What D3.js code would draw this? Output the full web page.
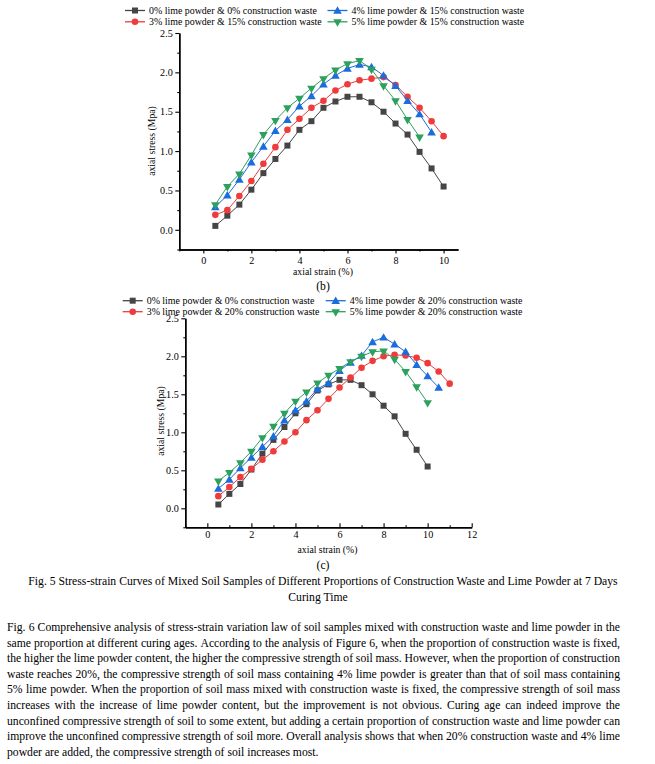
<!DOCTYPE html>
<html><head><meta charset="utf-8">
<script src="https://cdn.jsdelivr.net/npm/d3@7"></script>
<style>html,body{margin:0;padding:0;background:#fff;}svg{display:block;}</style>
</head><body>
<script>
// ---------- data ----------
const strainB = [0.5,1,1.5,2,2.5,3,3.5,4,4.5,5,5.5,6,6.5,7,7.5,8,8.5,9,9.5,10];
const strainC = [0.5,1,1.5,2,2.5,3,3.5,4,4.5,5,5.5,6,6.5,7,7.5,8,8.5,9,9.5,10,10.5,11];

const b0 = [0.05,0.18,0.32,0.51,0.72,0.90,1.07,1.27,1.38,1.55,1.63,1.69,1.69,1.62,1.50,1.35,1.21,0.99,0.78,0.55];
const b3 = [0.19,0.25,0.43,0.62,0.84,1.05,1.27,1.41,1.55,1.64,1.77,1.85,1.90,1.92,1.94,1.84,1.69,1.55,1.38,1.19];
const b4 = [0.29,0.44,0.64,0.86,1.06,1.26,1.40,1.57,1.70,1.85,1.96,2.05,2.10,2.07,1.96,1.83,1.64,1.47,1.24];
const b5 = [0.32,0.55,0.71,0.95,1.21,1.39,1.55,1.67,1.80,1.92,2.03,2.11,2.15,2.04,1.83,1.64,1.40,1.18];

const c0 = [0.05,0.19,0.32,0.51,0.72,0.90,1.07,1.25,1.37,1.55,1.63,1.69,1.69,1.62,1.50,1.35,1.21,0.98,0.77,0.55];
const c3 = [0.16,0.28,0.41,0.52,0.64,0.75,0.88,1.00,1.16,1.29,1.44,1.59,1.72,1.85,1.94,2.00,2.02,2.01,1.98,1.91,1.80,1.64];
const c4 = [0.26,0.38,0.53,0.67,0.81,0.95,1.16,1.29,1.41,1.57,1.65,1.81,1.92,2.01,2.19,2.25,2.16,2.06,1.89,1.74,1.59];
const c5 = [0.36,0.47,0.60,0.75,0.93,1.08,1.25,1.41,1.53,1.65,1.75,1.84,1.93,2.00,2.06,2.07,1.96,1.80,1.60,1.39];

const namesB = ["0% lime powder & 0% construction waste","3% lime powder & 15% construction waste","4% lime powder & 15% construction waste","5% lime powder & 15% construction waste"];
const namesC = ["0% lime powder & 0% construction waste","3% lime powder & 20% construction waste","4% lime powder & 20% construction waste","5% lime powder & 20% construction waste"];

const yTicks = [0,0.5,1.0,1.5,2.0,2.5];
const yMinor = [-0.25,0.25,0.75,1.25,1.75,2.25];
const xTicksB = [0,2,4,6,8,10];
const xMinorB = [-1,1,3,5,7,9];
const xTicksC = [0,2,4,6,8,10,12];
const xMinorC = [-1,1,3,5,7,9,11];

const colors = ["#454545","#ee3b3b","#1c6ddc","#2ca05c"];
const shapes = ["square","circle","up","down"];

const caption1 = "Fig. 5 Stress-strain Curves of Mixed Soil Samples of Different Proportions of Construction Waste and Lime Powder at 7 Days";
const caption2 = "Curing Time";
const paraLines = [
"Fig. 6 Comprehensive analysis of stress-strain variation law of soil samples mixed with construction waste and lime powder in the",
"same proportion at different curing ages. According to the analysis of Figure 6, when the proportion of construction waste is fixed,",
"the higher the lime powder content, the higher the compressive strength of soil mass. However, when the proportion of construction",
"waste reaches 20%, the compressive strength of soil mass containing 4% lime powder is greater than that of soil mass containing",
"5% lime powder. When the proportion of soil mass mixed with construction waste is fixed, the compressive strength of soil mass",
"increases with the increase of lime powder content, but the improvement is not obvious. Curing age can indeed improve the",
"unconfined compressive strength of soil to some extent, but adding a certain proportion of construction waste and lime powder can",
"improve the unconfined compressive strength of soil more. Overall analysis shows that when 20% construction waste and 4% lime",
"powder are added, the compressive strength of soil increases most."
];

// ---------- drawing ----------
const FONT = "'Liberation Serif', 'Times New Roman', serif";
const W = 655, H = 764;
const svg = d3.select("body").append("svg").attr("width", W).attr("height", H);
svg.append("rect").attr("width", W).attr("height", H).attr("fill", "#fff");

function txt(g, size){ return g.append("text").style("font-family", FONT).style("font-size", size + "px").attr("fill", "#000"); }
function measure(s, size){ const m = txt(svg, size).text(s); const w = m.node().getComputedTextLength(); m.remove(); return w; }
function fit(s, target){ return 10 * target / measure(s, 10); }

const legSize = fit(namesB[0], 168);
const tickSize = fit("0.0", 12.7);
const titleSize = fit("axial strain (%)", 60);
const capSize = fit(caption1, 590);

function symbolPath(shape){
  if (shape === "square") return d3.symbol(d3.symbolSquare, 36)();
  if (shape === "circle") return d3.symbol(d3.symbolCircle, 34)();
  return d3.symbol(d3.symbolTriangle, 32)();
}
function addMarker(g, shape, x, y, color){
  const p = g.append("path").attr("d", symbolPath(shape)).attr("fill", color);
  if (shape === "down") p.attr("transform", `translate(${x},${y}) rotate(180)`);
  else if (shape === "up") p.attr("transform", `translate(${x},${y+0.8})`);
  else p.attr("transform", `translate(${x},${y})`);
}

function drawPanel(cfg){
  const x = d3.scaleLinear().domain(cfg.xDomain).range(cfg.xRange);
  const y = d3.scaleLinear().domain([-0.25, 2.5]).range(cfg.yRange);
  const g = svg.append("g");

  const yAxis = d3.axisLeft(y).tickValues(yTicks).tickFormat(d3.format(".1f")).tickSize(4).tickSizeOuter(0).tickPadding(2.5);
  const yAxisMinor = d3.axisLeft(y).tickValues(yMinor).tickFormat("").tickSize(2).tickSizeOuter(0);
  const xAxis = d3.axisBottom(x).tickValues(cfg.xTicks).tickFormat(d3.format("d")).tickSize(4 * cfg.xDir).tickSizeOuter(0).tickPadding(cfg.xPad);
  const xAxisMinor = d3.axisBottom(x).tickValues(cfg.xMinor).tickFormat("").tickSize(2 * cfg.xDir).tickSizeOuter(0);

  g.append("g").attr("transform", `translate(${cfg.xRange[0]},0)`).call(yAxis);
  g.append("g").attr("transform", `translate(${cfg.xRange[0]},0)`).call(yAxisMinor);
  g.append("g").attr("transform", `translate(0,${cfg.yRange[0]})`).call(xAxis);
  g.append("g").attr("transform", `translate(0,${cfg.yRange[0]})`).call(xAxisMinor);
  g.selectAll(".domain").attr("stroke", "#000").attr("stroke-width", 1.4);
  g.selectAll(".tick line").attr("stroke", "#000").attr("stroke-width", 1.1);
  g.selectAll(".tick text").style("font-family", FONT).style("font-size", tickSize + "px").attr("fill", "#000");

  txt(g, titleSize).attr("x", cfg.xTitle[0]).attr("y", cfg.xTitle[1]).attr("text-anchor", "middle").text("axial strain (%)");
  txt(g, titleSize).attr("transform", `translate(${cfg.yTitle[0]},${cfg.yTitle[1]}) rotate(-90)`)
    .attr("text-anchor", "middle").text("axial stress (Mpa)");
  txt(g, capSize).attr("x", cfg.tag[0]).attr("y", cfg.tag[1]).attr("text-anchor", "middle").text(cfg.tagText);

  const line = d3.line().x(d => x(d[0])).y(d => y(d[1]));
  cfg.series.forEach((vals, i) => {
    const pts = vals.map((v, k) => [cfg.strain[k], v]);
    g.append("path").attr("d", line(pts)).attr("fill", "none").attr("stroke", colors[i]).attr("stroke-width", 1);
    pts.forEach(p => addMarker(g, shapes[i], x(p[0]), y(p[1]), colors[i]));
  });

  cfg.names.forEach((n, i) => {
    const col = i < 2 ? 0 : 1, row = i % 2;
    const lx = cfg.legX[col], ly = cfg.legY[row];
    g.append("line").attr("x1", lx).attr("x2", lx + 20).attr("y1", ly).attr("y2", ly)
      .attr("stroke", colors[i]).attr("stroke-width", 1.3);
    addMarker(g, shapes[i], lx + 10, ly, colors[i]);
    txt(g, legSize).attr("x", lx + 24).attr("y", ly + 3.2).text(n);
  });
}

drawPanel({
  names: namesB, series: [b0, b3, b4, b5], strain: strainB,
  xDomain: [-1, 10.6], xRange: [179.3, 458], yRange: [249.5, 33],
  xTicks: xTicksB, xMinor: xMinorB, xPad: 3, xDir: 1,
  legX: [125, 327.5], legY: [10.5, 21.8],
  xTitle: [323, 275], yTitle: [155, 141], tag: [323, 289.5], tagText: "(b)"
});

drawPanel({
  names: namesC, series: [c0, c3, c4, c5], strain: strainC,
  xDomain: [-1, 12], xRange: [185.3, 471.7], yRange: [527.3, 318.3],
  xTicks: xTicksC, xMinor: xMinorC, xPad: 3.3, xDir: -1,
  legX: [122.7, 325.7], legY: [300.7, 311.7],
  xTitle: [327.5, 553], yTitle: [163.5, 421], tag: [323, 568.5], tagText: "(c)"
});

// caption
txt(svg, capSize).attr("x", 323).attr("y", 584.5).attr("text-anchor", "middle").text(caption1);
txt(svg, capSize).attr("x", 318).attr("y", 600.5).attr("text-anchor", "middle").text(caption2);

// justified paragraph
const left = 7, right = 620, lh = 15.6, y0 = 631;
paraLines.forEach((ln, i) => {
  const t = txt(svg, capSize).attr("y", y0 + i * lh);
  if (i === paraLines.length - 1) { t.attr("x", left).text(ln); return; }
  const words = ln.split(" ");
  const widths = words.map(w => measure(w, capSize));
  const gap = (right - left - d3.sum(widths)) / (words.length - 1);
  let cx = left;
  words.forEach((w, k) => { t.append("tspan").attr("x", cx).text(w); cx += widths[k] + gap; });
});
</script>
</body></html>
